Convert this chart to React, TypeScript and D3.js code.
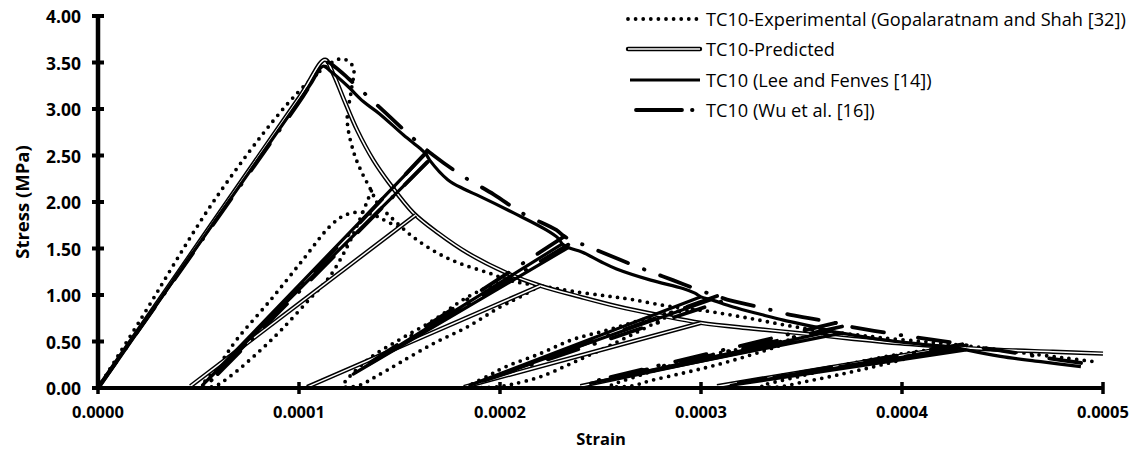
import React from "react";
import * as d3 from "d3";

type Pt = [number, number]; // [strain, stress (MPa)]

const WIDTH = 1133;
const HEIGHT = 454;

const xTicks = [0, 0.0001, 0.0002, 0.0003, 0.0004, 0.0005];
const yTicks = [0, 0.5, 1, 1.5, 2, 2.5, 3, 3.5, 4];

// ---- TC10 experimental (Gopalaratnam and Shah) ----
const expEnvelope: Pt[] = [
  [0, 0], [0.21e-4, 0.73], [0.57e-4, 1.99], [0.905e-4, 2.96], [1.07e-4, 3.34],
  [1.17e-4, 3.51], [1.22e-4, 3.54], [1.27e-4, 3.45], [1.26e-4, 3.2], [1.24e-4, 2.88],
  [1.27e-4, 2.55], [1.31e-4, 2.33], [1.36e-4, 2.12], [1.39e-4, 1.99], [1.47e-4, 1.81],
  [1.57e-4, 1.62], [1.69e-4, 1.45], [1.8e-4, 1.34], [1.94e-4, 1.24], [2.06e-4, 1.15],
  [2.23e-4, 1.09], [2.36e-4, 1.04], [2.53e-4, 0.99], [2.66e-4, 0.95], [2.81e-4, 0.89],
  [2.95e-4, 0.85], [3.08e-4, 0.81], [3.24e-4, 0.75], [3.41e-4, 0.68], [3.58e-4, 0.62],
  [3.74e-4, 0.58], [3.9e-4, 0.54], [4.1e-4, 0.5], [4.25e-4, 0.47], [4.49e-4, 0.41],
  [4.67e-4, 0.36], [4.82e-4, 0.32], [4.97e-4, 0.28],
];
const expLoop1: Pt[] = [
  [1.36e-4, 2.12], [1.3e-4, 1.8], [1.24e-4, 1.52], [1.15e-4, 1.19], [1.05e-4, 0.95],
  [0.91e-4, 0.62], [0.79e-4, 0.37], [0.66e-4, 0.13], [0.58e-4, 0.02], [0.52e-4, 0.02],
  [0.6e-4, 0.24], [0.69e-4, 0.52], [0.86e-4, 0.95], [1.02e-4, 1.38], [1.15e-4, 1.73],
  [1.22e-4, 1.85], [1.29e-4, 1.89], [1.36e-4, 1.87], [1.42e-4, 1.81], [1.52e-4, 1.7],
];
const expLoop2: Pt[] = [
  [2.2e-4, 1.1], [2.1e-4, 0.98], [2.0e-4, 0.87], [1.84e-4, 0.66], [1.67e-4, 0.48],
  [1.5e-4, 0.27], [1.38e-4, 0.12], [1.3e-4, 0.03], [1.22e-4, 0.02], [1.34e-4, 0.3],
  [1.5e-4, 0.52], [1.67e-4, 0.73], [1.84e-4, 0.98], [2.0e-4, 1.13], [2.1e-4, 1.16],
];
const expLoop3: Pt[] = [
  [2.92e-4, 0.86], [2.86e-4, 0.8], [2.7e-4, 0.62], [2.53e-4, 0.44], [2.36e-4, 0.27],
  [2.2e-4, 0.12], [2.06e-4, 0.04], [1.98e-4, 0.01], [1.85e-4, 0.02], [1.95e-4, 0.14],
  [2.03e-4, 0.23], [2.2e-4, 0.37], [2.36e-4, 0.52], [2.53e-4, 0.62], [2.7e-4, 0.73],
  [2.85e-4, 0.81], [2.98e-4, 0.84],
];
const expLoop4: Pt[] = [
  [3.6e-4, 0.61], [3.45e-4, 0.5], [3.3e-4, 0.39], [3.08e-4, 0.25], [2.91e-4, 0.16],
  [2.75e-4, 0.08], [2.65e-4, 0.02], [2.55e-4, 0.02], [2.7e-4, 0.14], [2.9e-4, 0.27],
  [3.1e-4, 0.38], [3.3e-4, 0.46], [3.5e-4, 0.54], [3.65e-4, 0.6],
];
const expLoop5: Pt[] = [
  [4.3e-4, 0.46], [4.1e-4, 0.36], [3.9e-4, 0.25], [3.7e-4, 0.15], [3.5e-4, 0.06],
  [3.38e-4, 0.01], [3.3e-4, 0.02], [3.5e-4, 0.13], [3.7e-4, 0.24], [3.9e-4, 0.33],
  [4.1e-4, 0.4], [4.3e-4, 0.46],
];

// ---- TC10 predicted ----
const predEnvelope: Pt[] = [
  [0, 0], [1.0e-4, 3.12], [1.13e-4, 3.53], [1.17e-4, 3.38], [1.22e-4, 3.12],
  [1.29e-4, 2.77], [1.37e-4, 2.45], [1.45e-4, 2.2], [1.57e-4, 1.88], [1.69e-4, 1.67],
  [1.84e-4, 1.45], [2.03e-4, 1.24], [2.2e-4, 1.1], [2.4e-4, 0.98], [2.58e-4, 0.88],
  [2.8e-4, 0.78], [3.0e-4, 0.7], [3.25e-4, 0.64], [3.49e-4, 0.59], [3.75e-4, 0.53],
  [3.99e-4, 0.48], [4.25e-4, 0.44], [4.49e-4, 0.41], [4.75e-4, 0.39], [5.0e-4, 0.37],
];
const predCycles: Pt[][] = [
  [[1.58e-4, 1.86], [0.46e-4, 0.02]],
  [[2.2e-4, 1.1], [1.04e-4, 0.01]],
  [[3.0e-4, 0.7], [1.82e-4, 0.01]],
  [[3.6e-4, 0.57], [2.4e-4, 0.02]],
  [[4.25e-4, 0.44], [3.08e-4, 0.02]],
];

// ---- TC10 Lee and Fenves ----
const leeEnvelope: Pt[] = [
  [0, 0], [1.05e-4, 3.24], [1.12e-4, 3.46], [1.16e-4, 3.4], [1.24e-4, 3.25],
  [1.32e-4, 3.08], [1.4e-4, 2.95], [1.52e-4, 2.72], [1.6e-4, 2.58], [1.63e-4, 2.52],
  [1.65e-4, 2.45], [1.74e-4, 2.24], [1.82e-4, 2.14], [1.9e-4, 2.06], [2.07e-4, 1.88],
  [2.23e-4, 1.7], [2.29e-4, 1.61], [2.31e-4, 1.55], [2.34e-4, 1.51], [2.41e-4, 1.46],
  [2.5e-4, 1.36], [2.58e-4, 1.28], [2.75e-4, 1.16], [2.91e-4, 1.07], [2.97e-4, 1.02],
  [3.0e-4, 0.98], [3.05e-4, 0.95], [3.16e-4, 0.87], [3.3e-4, 0.79], [3.41e-4, 0.73],
  [3.58e-4, 0.65], [3.65e-4, 0.61], [3.7e-4, 0.59], [3.9e-4, 0.52], [4.1e-4, 0.47],
  [4.28e-4, 0.43], [4.32e-4, 0.41], [4.49e-4, 0.34], [4.7e-4, 0.28], [4.89e-4, 0.23],
];
const leeCycles: Pt[][] = [
  [[1.63e-4, 2.52], [0.52e-4, 0.03], [1.65e-4, 2.45]],
  [[2.31e-4, 1.55], [1.27e-4, 0.15], [2.34e-4, 1.51]],
  [[3.0e-4, 0.98], [1.85e-4, 0.03], [3.05e-4, 0.95]],
  [[3.65e-4, 0.61], [2.45e-4, 0.05], [3.7e-4, 0.59]],
  [[4.28e-4, 0.43], [3.15e-4, 0.03], [4.32e-4, 0.41]],
];

// ---- TC10 Wu et al. ----
const wuEnvelope: Pt[] = [
  [0, 0], [1.0e-4, 3.07], [1.14e-4, 3.5], [1.18e-4, 3.45], [1.25e-4, 3.32],
  [1.4e-4, 3.02], [1.54e-4, 2.74], [1.64e-4, 2.55], [1.67e-4, 2.5], [1.72e-4, 2.42],
  [1.82e-4, 2.27], [1.97e-4, 2.08], [2.11e-4, 1.88], [2.28e-4, 1.7], [2.32e-4, 1.63],
  [2.37e-4, 1.58], [2.45e-4, 1.51], [2.7e-4, 1.29], [2.86e-4, 1.16], [3.02e-4, 1.03],
  [3.08e-4, 0.99], [3.13e-4, 0.95], [3.29e-4, 0.87], [3.46e-4, 0.78], [3.62e-4, 0.72],
  [3.67e-4, 0.7], [3.72e-4, 0.67], [3.99e-4, 0.57], [4.15e-4, 0.52], [4.3e-4, 0.47],
  [4.34e-4, 0.45], [4.5e-4, 0.4], [4.7e-4, 0.33], [4.92e-4, 0.26],
];
const wuCycles: Pt[][] = [
  [[1.64e-4, 2.55], [0.55e-4, 0.05], [1.67e-4, 2.5]],
  [[2.32e-4, 1.63], [1.28e-4, 0.17], [2.37e-4, 1.58]],
  [[3.08e-4, 0.99], [1.88e-4, 0.05], [3.13e-4, 0.95]],
  [[3.67e-4, 0.7], [2.48e-4, 0.08], [3.72e-4, 0.67]],
  [[4.3e-4, 0.47], [3.18e-4, 0.05], [4.34e-4, 0.45]],
];

const legendLabels = [
  "TC10-Experimental (Gopalaratnam and Shah [32])",
  "TC10-Predicted",
  "TC10 (Lee and Fenves [14])",
  "TC10 (Wu et al. [16])",
];

const plot = { left: 98, right: 1103, top: 16, bottom: 388 };
const FONT = "'Open Sans', 'Liberation Sans', sans-serif";

export default function App() {
  const x = d3.scaleLinear().domain([0, 0.0005]).range([plot.left, plot.right]);
  const y = d3.scaleLinear().domain([0, 4]).range([plot.bottom, plot.top]);

  const smooth = d3
    .line<Pt>()
    .x((d) => x(d[0]))
    .y((d) => y(d[1]))
    .curve(d3.curveCatmullRom.alpha(0.5));
  const straight = d3
    .line<Pt>()
    .x((d) => x(d[0]))
    .y((d) => y(d[1]));

  const dotted = {
    fill: "none",
    stroke: "#000",
    strokeWidth: 3.8,
    strokeLinecap: "round" as const,
    strokeDasharray: "0 7.6",
  };
  const solid = { fill: "none", stroke: "#000", strokeWidth: 3.2, strokeLinejoin: "round" as const };
  const dashDot = {
    fill: "none",
    stroke: "#000",
    strokeWidth: 3.8,
    strokeDasharray: "32 17 0.5 17",
    strokeLinecap: "round" as const,
  };

  const doubleLine = (d: string, key: string) => (
    <g key={key}>
      <path d={d} fill="none" stroke="#000" strokeWidth={4.4} strokeLinejoin="round" />
      <path d={d} fill="none" stroke="#fff" strokeWidth={1.5} strokeLinejoin="round" />
    </g>
  );

  const expLoops = [expLoop1, expLoop2, expLoop3, expLoop4, expLoop5];
  const legendY = [19, 49, 80, 110];

  return (
    <svg
      width={WIDTH}
      height={HEIGHT}
      style={{ position: "absolute", left: 0, top: 0, background: "#fff" }}
      fontFamily={FONT}
    >
      <defs>
        <clipPath id="plot-area">
          <rect x={plot.left} y={plot.top - 10} width={plot.right - plot.left + 4} height={plot.bottom - plot.top + 10} />
        </clipPath>
      </defs>

      <g clipPath="url(#plot-area)">
        {/* experimental: envelope and hysteresis loops */}
        <path d={smooth(expEnvelope) || ""} {...dotted} />
        {expLoops.map((loop, i) => (
          <path key={`el${i}`} d={smooth(loop) || ""} {...dotted} />
        ))}

        {/* predicted */}
        {doubleLine(smooth(predEnvelope) || "", "pe")}
        {predCycles.map((c, i) => doubleLine(straight(c) || "", `pc${i}`))}

        {/* Lee and Fenves */}
        <path d={smooth(leeEnvelope) || ""} {...solid} />
        {leeCycles.map((c, i) => (
          <path key={`lc${i}`} d={straight(c) || ""} {...solid} />
        ))}

        {/* Wu et al. */}
        <path d={smooth(wuEnvelope) || ""} {...dashDot} />
        {wuCycles.map((c, i) => (
          <path key={`wc${i}`} d={straight(c) || ""} {...dashDot} />
        ))}
      </g>

      {/* axes */}
      <line x1={plot.left} x2={plot.left} y1={plot.top} y2={plot.bottom} stroke="#000" strokeWidth={4.5} />
      <line x1={plot.left} x2={plot.right} y1={plot.bottom} y2={plot.bottom} stroke="#000" strokeWidth={4} />
      {yTicks.map((t) => (
        <g key={`yt${t}`}>
          <line x1={plot.left - 6} x2={plot.left + 6} y1={y(t)} y2={y(t)} stroke="#000" strokeWidth={4} />
          <text
            x={81}
            y={y(t)}
            textAnchor="end"
            dominantBaseline="central"
            fontSize={17.5}
            fontWeight="bold"
          >
            {t.toFixed(2)}
          </text>
        </g>
      ))}
      {xTicks.map((t) => (
        <g key={`xt${t}`}>
          <line x1={x(t)} x2={x(t)} y1={plot.bottom - 6} y2={plot.bottom + 6} stroke="#000" strokeWidth={3.5} />
          <text x={x(t)} y={411} textAnchor="middle" dominantBaseline="central" fontSize={16.5} fontWeight="bold">
            {t.toFixed(4)}
          </text>
        </g>
      ))}
      <text x={601} y={438} textAnchor="middle" dominantBaseline="central" fontSize={16.5} fontWeight="bold">
        Strain
      </text>
      <text
        transform={`translate(21, ${(plot.top + plot.bottom) / 2}) rotate(-90)`}
        textAnchor="middle"
        dominantBaseline="central"
        fontSize={18.5}
        fontWeight="bold"
      >
        Stress (MPa)
      </text>

      {/* legend */}
      <line x1={628} x2={700} y1={legendY[0]} y2={legendY[0]} {...dotted} />
      <g>
        <line x1={628} x2={700} y1={legendY[1]} y2={legendY[1]} stroke="#000" strokeWidth={4.4} strokeLinecap="round" />
        <line x1={628} x2={700} y1={legendY[1]} y2={legendY[1]} stroke="#fff" strokeWidth={1.5} />
      </g>
      <line x1={630} x2={700} y1={legendY[2]} y2={legendY[2]} {...solid} />
      <line x1={636} x2={700} y1={legendY[3]} y2={legendY[3]} {...dashDot} strokeDasharray="46 10 0.5 20" />
      {legendLabels.map((l, i) => (
        <text key={l} x={706} y={legendY[i]} dominantBaseline="central" fontSize={18.2}>
          {l}
        </text>
      ))}
    </svg>
  );
}
